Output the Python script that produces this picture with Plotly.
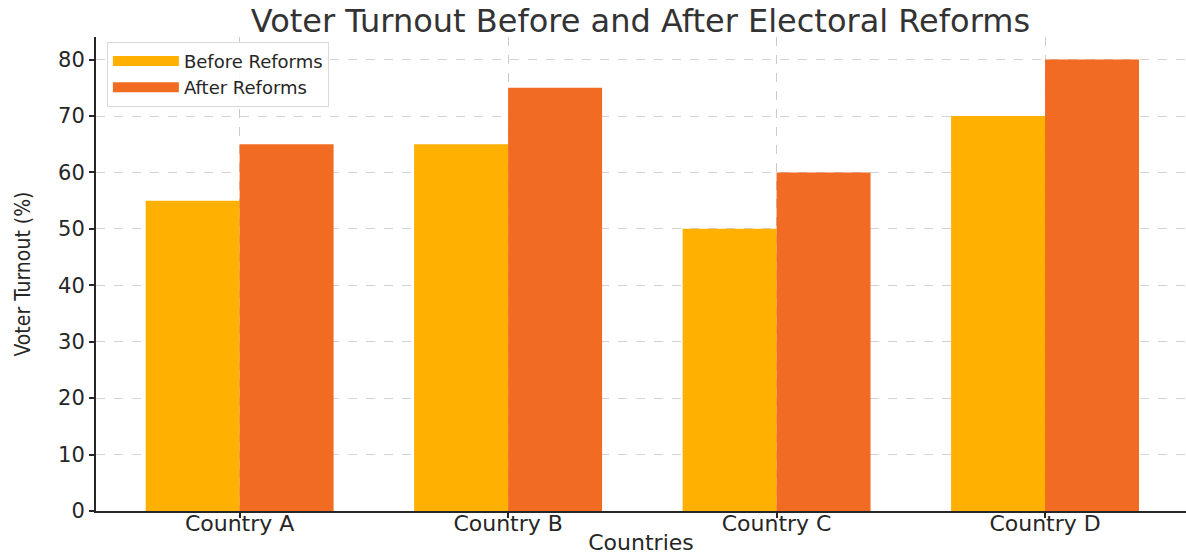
import plotly.graph_objects as go

countries = ["Country A", "Country B", "Country C", "Country D"]
before = [55, 65, 50, 70]
after = [65, 75, 60, 80]
y_ticks = [0, 10, 20, 30, 40, 50, 60, 70, 80]
series_names = ["Before Reforms", "After Reforms"]

c_before = "#FFB000"
c_after = "#F26B22"

fig = go.Figure()
fig.add_trace(go.Bar(x=countries, y=before, name=series_names[0], showlegend=False,
                     marker=dict(color=c_before, line=dict(width=0))))
fig.add_trace(go.Bar(x=countries, y=after, name=series_names[1], showlegend=False,
                     marker=dict(color=c_after, line=dict(width=0))))
# legend proxies (wide rectangular patches)
for nm, col in zip(series_names, [c_before, c_after]):
    fig.add_trace(go.Scatter(x=[None], y=[None], mode="lines", name=nm,
                             line=dict(color=col, width=14), hoverinfo="skip"))

font_main = "DejaVu Sans, Verdana, sans-serif"

fig.update_layout(
    width=1186, height=555,
    margin=dict(l=96, r=0, t=37, b=44, pad=0),
    paper_bgcolor="white", plot_bgcolor="white",
    barmode="group", bargap=0.3, bargroupgap=0,
    font=dict(family=font_main, color="#262626", size=18),
    title=dict(text="Voter Turnout Before and After Electoral Reforms",
               x=0.54, xanchor="center", y=0.963, yanchor="middle",
               font=dict(size=32, color="#333333", family=font_main)),
    showlegend=True,
    legend=dict(x=0.01, y=0.99, xanchor="left", yanchor="top",
                bgcolor="rgba(255,255,255,0.85)", bordercolor="#d9d9d9",
                borderwidth=1, font=dict(size=18, color="#262626"),
                itemwidth=66, tracegroupgap=0),
)

fig.update_xaxes(
    range=[-0.535, 3.525], automargin=False,
    showline=True, linecolor="#262626", linewidth=2,
    ticks="outside", ticklen=5, tickwidth=1.5, tickcolor="#262626",
    ticklabelstandoff=-13,
    showgrid=True, gridcolor="#cccccc", griddash="dash", gridwidth=1,
    tickfont=dict(size=22, family=font_main),
    title=dict(text="Countries", font=dict(size=22, family=font_main), standoff=0),
    zeroline=False,
)
fig.update_yaxes(
    range=[0, 84], automargin=False,
    tickvals=y_ticks,
    showline=True, linecolor="#262626", linewidth=2,
    ticks="outside", ticklen=5, tickwidth=1.5, tickcolor="#262626",
    showgrid=True, gridcolor="#d3d3d3", griddash="dash", gridwidth=1,
    tickfont=dict(size=21, family=font_main),
    title=dict(text="Voter Turnout (%)",
               font=dict(size=21, family="DejaVu Sans Condensed, Liberation Sans Narrow, DejaVu Sans, sans-serif"),
               standoff=22),
    zeroline=False,
)

fig.write_html("out.html")
